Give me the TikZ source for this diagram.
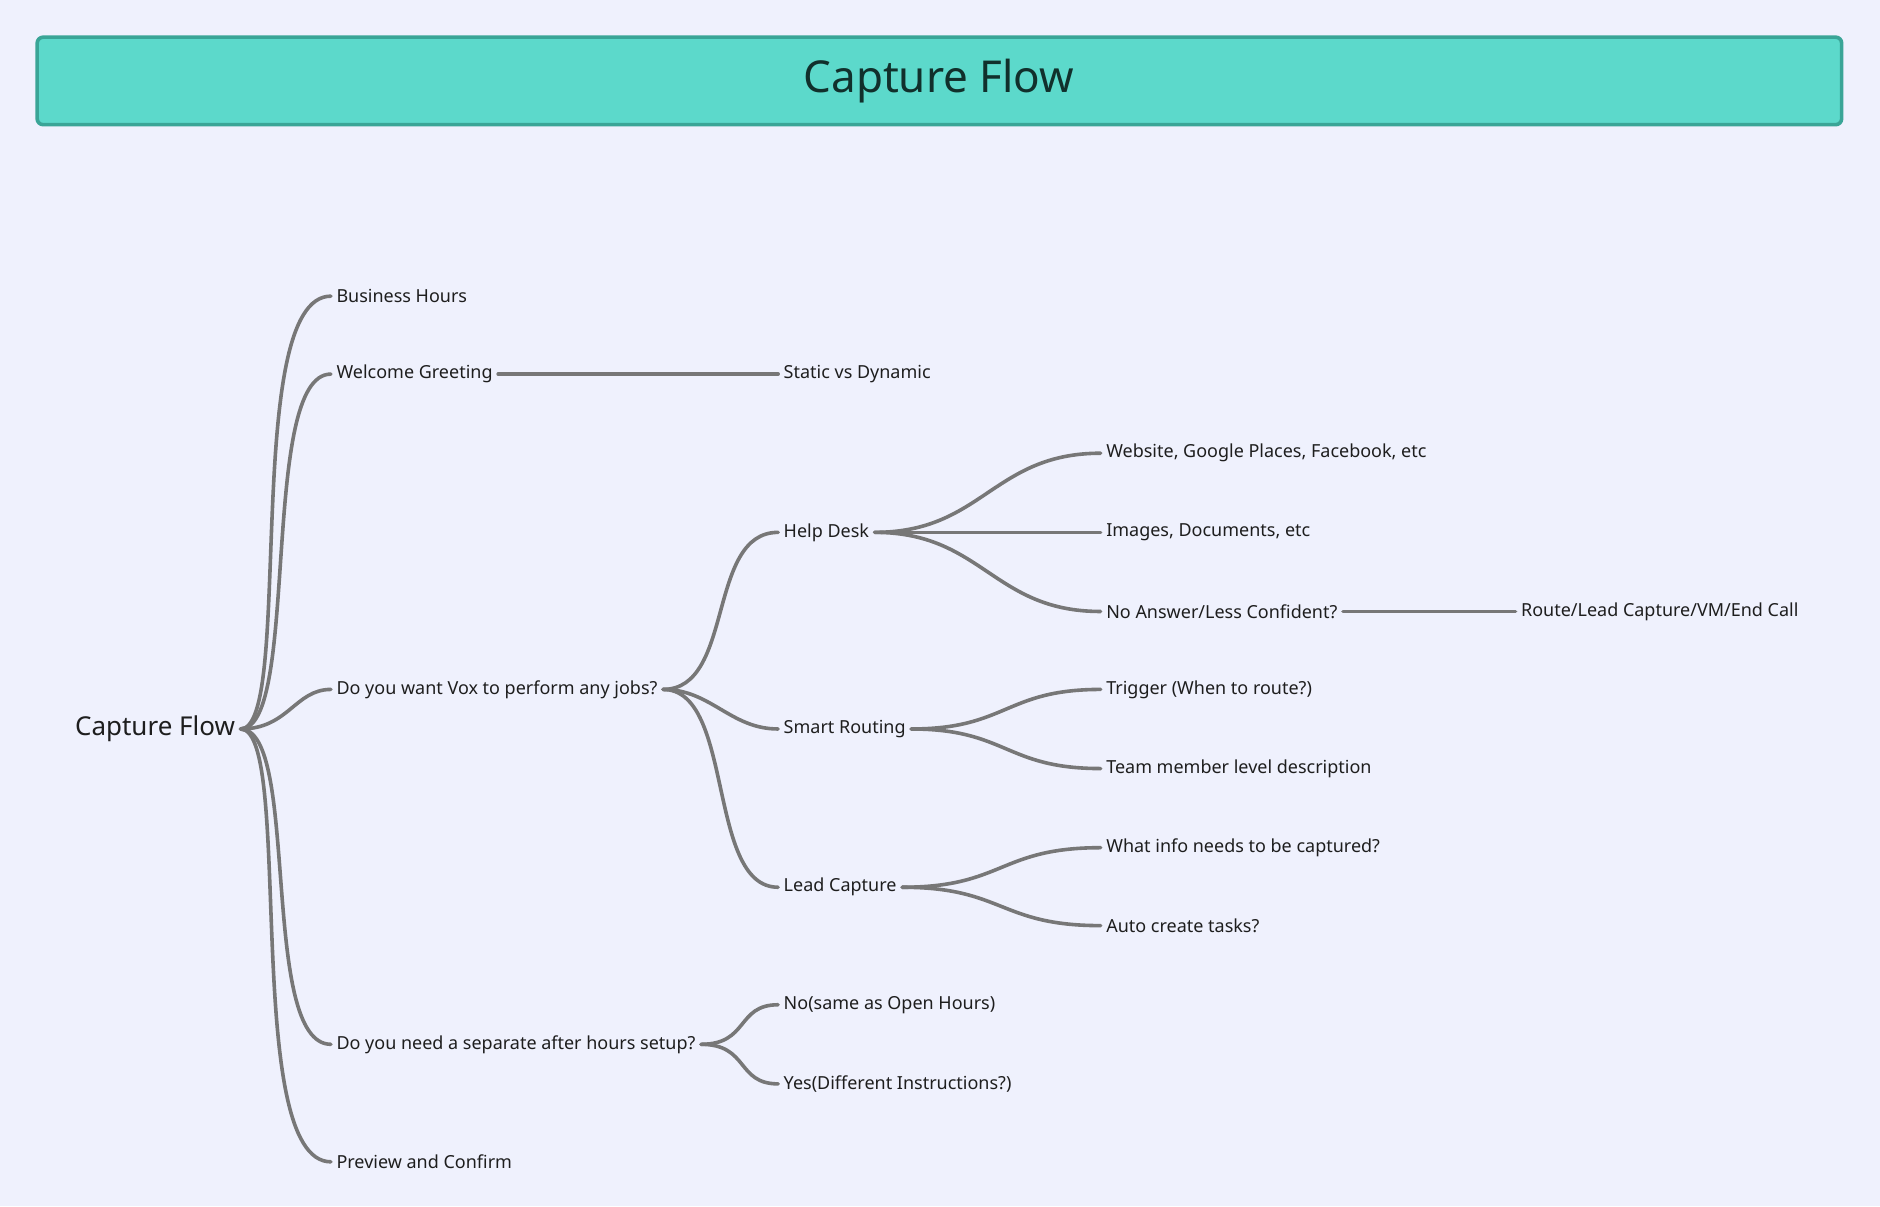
\documentclass[tikz,border=0pt]{standalone}
\usepackage{fontspec}
\setmainfont{Noto Sans}
\usetikzlibrary{positioning}
\definecolor{bgcol}{HTML}{EFF1FD}
\definecolor{headfill}{HTML}{5CD9CB}
\definecolor{headline}{HTML}{3AA597}
\definecolor{headtext}{HTML}{11302C}
\definecolor{linkcol}{HTML}{777777}
\definecolor{txtcol}{HTML}{1E1E1E}
\tikzset{
	item/.style={anchor=west, inner sep=2.6pt, font=\fontsize{9}{11}\selectfont, text=txtcol},
	link/.style={draw=linkcol, line width=1.8pt, line cap=round},
}
\begin{document}
\begin{tikzpicture}[x=0.6pt,y=-0.6pt]
		\fill[bgcol] (0,0) rectangle (1568,1006);
		\useasboundingbox (0,0) rectangle (1568,1006);
		\draw[fill=headfill, draw=headline, line width=1.8pt, rounded corners=3pt] (31,31) rectangle (1536,104);
		\node[font=\fontsize{22}{26}\selectfont\bfseries, text=headtext] (title) at (783,68) {Capture Flow};

		\node[anchor=west, inner sep=2.6pt, font=\fontsize{13}{16}\selectfont\bfseries, text=txtcol] (root) at (58,608) {Capture Flow};

		\node[item] (hours) at (276,247) {Business Hours};
		\node[item] (greet) at (276,312) {Welcome \textbf{Greeting}};
		\node[item] (jobs) at (276,575) {Do you want Vox to \textbf{perform any jobs}?};
		\node[item] (after) at (276,871) {Do you need a separate \textbf{after hours} setup?};
		\node[item] (preview) at (276,969) {Preview and Confirm};

		\node[item] (static) at (649,312) {Static vs Dynamic};
		\node[item] (help) at (649,444) {Help Desk};
		\node[item] (smart) at (649,608) {Smart Routing};
		\node[item] (lead) at (649,740) {Lead Capture};
		\node[item] (no) at (649,838) {No(same as Open Hours)};
		\node[item] (yes) at (649,904) {Yes(Different Instructions?)};

		\node[item] (web) at (918,378) {Website, Google Places, Facebook, etc};
		\node[item] (images) at (918,444) {Images, Documents, etc};
		\node[item] (noans) at (918,510) {No Answer/Less Confident?};
		\node[item] (trigger) at (918,575) {Trigger (When to route?)};
		\node[item] (team) at (918,641) {Team member level description};
		\node[item] (info) at (918,707) {What info needs to be captured?};
		\node[item] (tasks) at (918,772) {Auto create tasks?};
		\node[item] (route) at (1264,510) {Route/Lead Capture/VM/End Call};

		% root branches
		\draw[link] (root.east) .. controls +(45,0) and +(-75,0) .. (hours.west);
		\draw[link] (root.east) .. controls +(50,0) and +(-60,0) .. (greet.west);
		\draw[link] (root.east) .. controls +(40,0) and +(-30,0) .. (jobs.west);
		\draw[link] (root.east) .. controls +(50,0) and +(-60,0) .. (after.west);
		\draw[link] (root.east) .. controls +(45,0) and +(-75,0) .. (preview.west);

		% second level
		\draw[link] (greet.east) -- (static.west);
		\draw[link] (jobs.east) .. controls +(60,0) and +(-60,0) .. (help.west);
		\draw[link] (jobs.east) .. controls +(40,0) and +(-40,0) .. (smart.west);
		\draw[link] (jobs.east) .. controls +(60,0) and +(-60,0) .. (lead.west);
		\draw[link] (after.east) .. controls +(40,0) and +(-35,0) .. (no.west);
		\draw[link] (after.east) .. controls +(40,0) and +(-35,0) .. (yes.west);

		% third level
		\draw[link] (help.east) .. controls +(90,0) and +(-90,0) .. (web.west);
		\draw[link] (help.east) -- (images.west);
		\draw[link] (help.east) .. controls +(90,0) and +(-90,0) .. (noans.west);
		\draw[link] (smart.east) .. controls +(80,0) and +(-80,0) .. (trigger.west);
		\draw[link] (smart.east) .. controls +(80,0) and +(-80,0) .. (team.west);
		\draw[link] (lead.east) .. controls +(85,0) and +(-85,0) .. (info.west);
		\draw[link] (lead.east) .. controls +(85,0) and +(-85,0) .. (tasks.west);
		\draw[link] (noans.east) -- (route.west);
	\end{tikzpicture}
\end{document}
